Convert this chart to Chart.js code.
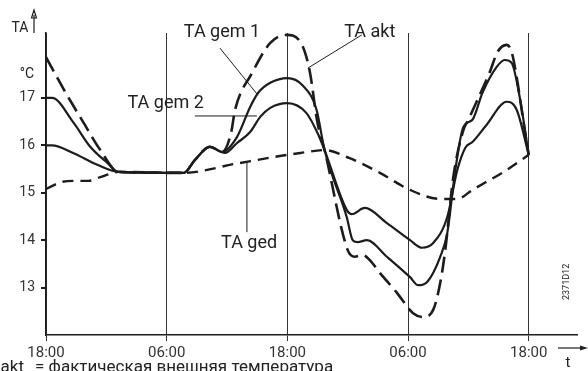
<!DOCTYPE html>
<html>
<head>
<meta charset="utf-8">
<script src="https://cdn.jsdelivr.net/npm/chart.js@4/dist/chart.umd.min.js"></script>
<style>
  body { margin: 0; background: #fff; }
  #wrap { width: 588px; height: 371px; }
</style>
</head>
<body>
<div id="wrap"><canvas id="taChart"></canvas></div>
<script>
// hours after the first 18:00 / outside temperature in °C
const tickHours = [0, 12, 24, 36, 48];
const tickNames = ['18:00', '06:00', '18:00', '06:00', '18:00'];
const tempTicks = [13, 14, 15, 16, 17];

const aktHours = [0, 1.9, 3.7, 5.4, 7.2, 13.7, 14.8, 16.3, 17.5, 18.4, 18.8, 20.5, 22.3, 23.9, 25.3, 26.2, 27.0, 27.7, 30.0, 30.7, 31.5, 32.2, 33.2, 34.9, 36.5, 37.5, 38.5, 39.2, 39.7, 40.5, 41.5, 42.0, 42.9, 44.1, 44.9, 45.8, 46.3, 46.8, 47.6, 48.0];
const aktTemp = [17.86, 17.13, 16.49, 15.90, 15.44, 15.42, 15.69, 15.97, 15.86, 16.26, 16.75, 17.53, 18.16, 18.33, 18.18, 17.59, 16.47, 15.90, 13.79, 13.65, 13.69, 13.58, 13.31, 12.89, 12.46, 12.38, 12.53, 13.10, 13.79, 15.33, 16.32, 16.54, 16.96, 17.53, 17.97, 18.12, 17.97, 17.44, 16.32, 15.80];

const gem1Hours = [0, 0.6, 2.7, 4.4, 6.1, 7.2, 13.7, 14.8, 16.3, 17.5, 19.0, 20.3, 21.1, 22.3, 24.0, 25.5, 26.9, 27.7, 29.9, 30.5, 31.0, 31.9, 33.9, 36.2, 37.0, 37.9, 39.2, 39.9, 40.7, 41.5, 42.4, 43.4, 44.8, 45.6, 46.3, 47.1, 48.0];
const gem1Temp = [17.0, 17.0, 16.49, 15.97, 15.63, 15.44, 15.42, 15.69, 15.97, 15.86, 16.18, 16.81, 17.11, 17.32, 17.42, 17.27, 16.75, 15.90, 14.49, 14.0, 13.96, 14.0, 13.65, 13.22, 13.05, 13.12, 13.65, 14.15, 15.48, 16.39, 16.54, 17.11, 17.65, 17.80, 17.74, 17.02, 15.80];

const gem2Hours = [0, 0.6, 2.7, 5.1, 7.2, 13.7, 14.8, 16.3, 17.8, 19.0, 20.3, 21.3, 22.3, 24.0, 25.9, 27.0, 27.7, 29.9, 30.4, 31.7, 33.9, 36.2, 37.4, 38.5, 39.9, 40.9, 41.7, 42.4, 43.8, 45.8, 46.8, 48.0];
const gem2Temp = [16.0, 16.0, 15.84, 15.59, 15.44, 15.42, 15.69, 15.97, 15.84, 16.05, 16.28, 16.60, 16.79, 16.89, 16.68, 16.26, 15.90, 14.64, 14.55, 14.68, 14.36, 14.0, 13.84, 13.94, 14.49, 15.48, 15.95, 16.07, 16.43, 16.92, 16.75, 15.80];

const gedHours = [0, 1.6, 2.9, 4.2, 5.4, 6.4, 7.2, 13.7, 18.8, 23.4, 25.3, 27.7, 30.2, 33.2, 36.2, 39.2, 40.9, 42.4, 45.8, 48.0];
const gedTemp = [15.08, 15.23, 15.25, 15.25, 15.33, 15.40, 15.44, 15.42, 15.61, 15.78, 15.84, 15.90, 15.73, 15.42, 15.06, 14.87, 14.87, 15.06, 15.48, 15.80];

// curve names and where they sit (hour, temp)
const noteNames = ['TA gem 1', 'TA akt', 'TA gem 2', 'TA ged'];
const noteAt = [[17.5, 18.39], [32.2, 18.39], [11.9, 16.89], [20.2, 13.94]];
const leaderLines = [[17.3, 18.05, 21.07, 17.06], [31.4, 18.33, 26.04, 17.63], [14.8, 16.62, 20.97, 16.62], [19.98, 15.63, 19.98, 14.17]];

const ink = '#1c1c1c';
const pairs = (hs, vs) => hs.map((h, i) => ({ x: h, y: vs[i] }));

const notesPlugin = {
    id: 'notes',
    afterDraw(chart) {
        const { ctx, chartArea: a, scales: { x, y } } = chart;
        ctx.save();
        ctx.strokeStyle = ink;
        ctx.fillStyle = '#222';

        // leader lines
        ctx.lineWidth = 1;
        leaderLines.forEach(l => {
            ctx.beginPath();
            ctx.moveTo(x.getPixelForValue(l[0]), y.getPixelForValue(l[1]));
            ctx.lineTo(x.getPixelForValue(l[2]), y.getPixelForValue(l[3]));
            ctx.stroke();
        });

        ctx.font = '18px Roboto';
        ctx.textAlign = 'center';
        ctx.textBaseline = 'middle';
        noteNames.forEach((n, i) => {
            ctx.fillText(n, x.getPixelForValue(noteAt[i][0]), y.getPixelForValue(noteAt[i][1]));
        });

        // y axis arrow + label
        const ax = a.left - 12;
        ctx.lineWidth = 1.2;
        ctx.beginPath();
        ctx.moveTo(ax, a.top);
        ctx.lineTo(ax, a.top - 18);
        ctx.stroke();
        ctx.beginPath();
        ctx.moveTo(ax, a.top - 23);
        ctx.lineTo(ax - 2.5, a.top - 15);
        ctx.lineTo(ax + 2.5, a.top - 15);
        ctx.closePath();
        ctx.stroke();
        ctx.font = '14px Roboto';
        ctx.fillText('TA', a.left - 26, a.top - 5);
        ctx.fillText('°C', a.left - 19, y.getPixelForValue(17.5));

        // time arrow
        const ty = a.bottom + 13;
        ctx.beginPath();
        ctx.moveTo(a.right - 19, ty);
        ctx.lineTo(a.right + 6, ty);
        ctx.stroke();
        ctx.beginPath();
        ctx.moveTo(a.right + 11, ty);
        ctx.lineTo(a.right + 3, ty - 2.5);
        ctx.lineTo(a.right + 3, ty + 2.5);
        ctx.closePath();
        ctx.fill();
        ctx.font = '15px Roboto';
        ctx.fillText('t', a.right - 9, a.bottom + 28);

        // drawing number
        ctx.save();
        ctx.translate(a.right - 10, y.getPixelForValue(13.12));
        ctx.rotate(-Math.PI / 2);
        ctx.font = '9px Roboto';
        ctx.fillText('2371D12', 0, 0);
        ctx.restore();

        // legend line at the bottom (cut by the page edge)
        ctx.font = '17px Roboto';
        ctx.textBaseline = 'top';
        ctx.textAlign = 'right';
        ctx.fillText('TA akt', 24, 359);
        ctx.textAlign = 'left';
        ctx.fillText('= фактическая внешняя температура', 35, 359);
        ctx.restore();
    }
};

const ctx = document.getElementById('taChart').getContext('2d');
new Chart(ctx, {
    type: 'line',
    data: {
        datasets: [
            {
                label: 'TA akt',
                data: pairs(aktHours, aktTemp),
                borderColor: ink,
                borderWidth: 2.6,
                borderDash: [16, 7]
            },
            {
                label: 'TA gem 1',
                data: pairs(gem1Hours, gem1Temp),
                borderColor: ink,
                borderWidth: 2.2
            },
            {
                label: 'TA gem 2',
                data: pairs(gem2Hours, gem2Temp),
                borderColor: ink,
                borderWidth: 2.2
            },
            {
                label: 'TA ged',
                data: pairs(gedHours, gedTemp),
                borderColor: ink,
                borderWidth: 2.4,
                borderDash: [11, 7]
            }
        ]
    },
    options: {
        responsive: true,
        maintainAspectRatio: false,
        animation: false,
        layout: { padding: { top: 33, right: 11, left: 0, bottom: 0 } },
        elements: {
            point: { radius: 0 },
            line: { cubicInterpolationMode: 'monotone', fill: false }
        },
        plugins: {
            legend: { display: false },
            tooltip: { enabled: false }
        },
        scales: {
            x: {
                type: 'linear',
                min: 0,
                max: 52.8,
                afterBuildTicks: s => { s.ticks = tickHours.map(v => ({ value: v })); },
                afterFit: s => { s.height = 36; },
                ticks: {
                    autoSkip: false,
                    maxRotation: 0,
                    padding: 3,
                    color: '#333',
                    font: { family: 'Roboto', size: 15 },
                    callback: (v) => tickNames[tickHours.indexOf(v)]
                },
                grid: { color: '#333', lineWidth: 1, tickLength: 6 },
                border: { color: ink, width: 1.5 }
            },
            y: {
                min: 12,
                max: 18.37,
                afterBuildTicks: s => { s.ticks = tempTicks.map(v => ({ value: v })); },
                afterFit: s => { s.width = 46; },
                ticks: {
                    padding: 6,
                    color: '#333',
                    font: { family: 'Roboto', size: 14 }
                },
                grid: { drawOnChartArea: false, color: ink, lineWidth: 2, tickLength: 5 },
                border: { color: ink, width: 1.5 }
            }
        }
    },
    plugins: [notesPlugin]
});
</script>
</body>
</html>
